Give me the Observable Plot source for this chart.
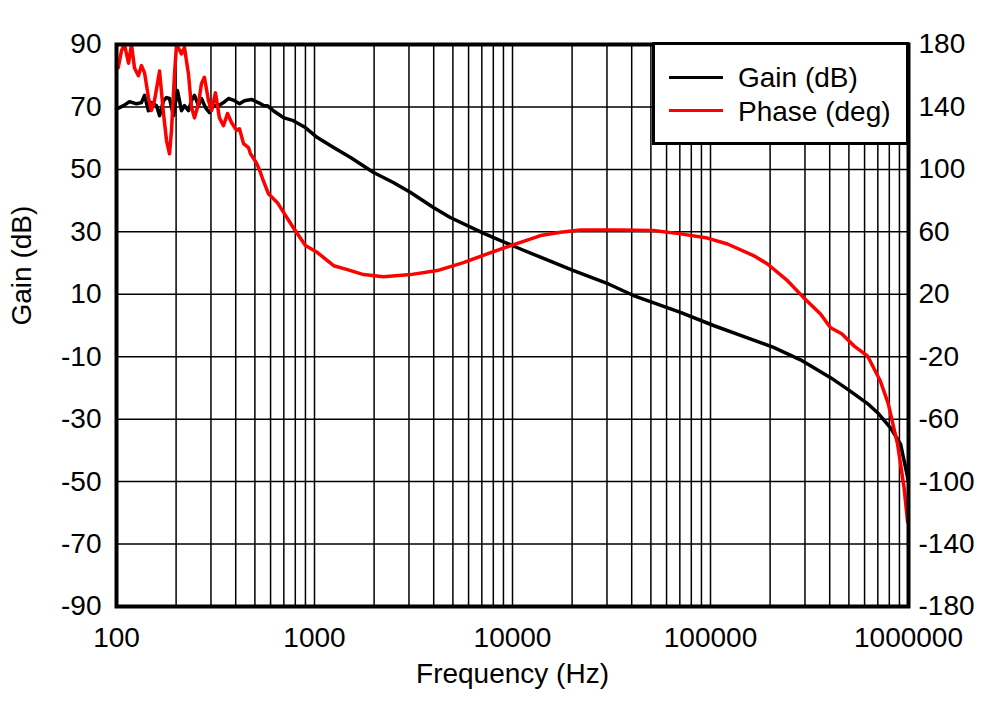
<!DOCTYPE html>
<html>
<head>
<meta charset="utf-8">
<script src="https://cdn.jsdelivr.net/npm/d3@7"></script>
<script src="https://cdn.jsdelivr.net/npm/@observablehq/plot@0.6"></script>
<style>
  html, body { margin: 0; padding: 0; background: white; }
  #wrap { position: relative; width: 992px; height: 701px; font-family: "Liberation Sans", Arial, sans-serif; }
  #legend { position: absolute; left: 652px; top: 42px; width: 251px; height: 97px; border: 3px solid black; background: white; }
  .item { position: absolute; font-size: 28px; color: black; white-space: nowrap; line-height: normal; }
  .sw { position: absolute; left: 14px; width: 54px; height: 3px; }
  .lab { left: 83px; }
</style>
</head>
<body>
<div id="wrap"></div>
<script>
// Gain curve (frequency Hz, dB)
const gainFreq = [100,108.5,116.3,126.2,133.7,138.5,145,150,159.3,165,172.7,178.9,185.2,194,203,213,220.5,231,239,247.7,259.5,268.7,281.4,294.9,308.9,327.3,347,367.8,394.6,418,442.7,480.6,519.6,557,577,619.4,696,782,899,1034,1249,1521,1988,2500,3059,3986,4850,7160,10975,20330,30530,40840,70540,103560,150000,208100,284800,404000,500000,621000,700000,811000,912000,950000,1000000];
const gainDb   = [69.3,70.4,71.7,71,71.4,73.7,68.8,71.4,70.4,67.2,72,73,72.7,67.2,75.3,68.8,70.4,68.8,72,73.7,70.4,72.7,69.8,68.2,70.4,70.4,71.4,72.7,72,71,72,72.4,71.4,70.4,70.4,68.8,66.6,65.6,63.4,60.2,57,53.8,49,45.8,42.6,37.8,34.6,29.5,24.5,17.6,13.3,9.6,4.2,0,-3.7,-7,-11,-16.7,-20.7,-25,-28,-32.8,-38,-43.3,-50];

// Phase curve (frequency Hz, degrees)
const phaseFreq = [100,102,106,109.7,115,119,123.3,129,133.7,138.5,145,150,155.5,163,165,172.7,178.9,185.2,189.6,196.3,201,213,220.5,231,239,247.7,259.5,268.7,278,291.5,301.8,316,331,347,363.6,381,403.7,418,438,464,475,510,528,547,585,650,689,782,900,1035,1250,1467,1770,2230,3050,4170,5650,7760,9800,10975,13850,17480,22050,35120,51530,70540,96560,121850,164930,194100,244800,294900,359400,404000,460000,530000,620000,720000,790000,880000,950000,990000];
const phaseDeg  = [165,165,176,180,168,180,165,160,166.5,162,146,137.7,144,159,163,135.8,118.5,110,125,161,180,174,178,161,140,133,142,155,159,144,137.7,149,133,128,135.8,130,125,126,116.5,114,110,104,99.5,94,84.4,78.7,73.6,62.6,51.2,46.7,38.3,35.8,32.6,31.3,32.6,35.2,40.3,46.7,51.2,53.3,57.6,59.7,61.2,61.2,60.8,58.7,56,52.2,44.8,39.4,28.7,18,7.4,-1.4,-5.3,-13,-19.4,-35.4,-50,-75.8,-104,-126];

// Axis ticks and titles
const xTickValues = [100, 1000, 10000, 100000, 1000000];
const gainTicks = [-90,-70,-50,-30,-10,10,30,50,70,90];
const phaseTicks = [-180,-140,-100,-60,-20,20,60,100,140,180];
const xTitle = "Frequency (Hz)";
const yTitle = "Gain (dB)";
const seriesNames = ["Gain (dB)", "Phase (deg)"];
const seriesColors = ["black", "#ff0000"];

const gainData = gainFreq.map((f, i) => ({f, v: gainDb[i]}));
const phaseData = phaseFreq.map((f, i) => ({f, v: phaseDeg[i]}));
const minorGrid = [];
for (let dec = 100; dec < 1000000; dec *= 10) for (let k = 1; k < 10; k++) minorGrid.push(dec * k);

const chart = Plot.plot({
  width: 992,
  height: 701,
  marginLeft: 116,
  marginRight: 84,
  marginTop: 44,
  marginBottom: 95,
  style: { fontFamily: "Liberation Sans, Arial, sans-serif", fontSize: "28px", background: "white", color: "black" },
  x: { type: "log", domain: [100, 1000000] },
  y: { domain: [-90, 90] },
  marks: [
    Plot.ruleX(minorGrid, { stroke: "black", strokeWidth: 1.5 }),
    Plot.ruleY(gainTicks, { stroke: "black", strokeWidth: 1.5 }),
    Plot.line(gainData, { x: "f", y: "v", stroke: seriesColors[0], strokeWidth: 3.5 }),
    Plot.line(phaseData, { x: "f", y: d => d.v / 2, stroke: seriesColors[1], strokeWidth: 3.5 }),
    Plot.frame({ stroke: "black", strokeWidth: 4 }),
    Plot.axisX({ ticks: xTickValues, tickFormat: d => String(d), tickSize: 0, tickPadding: 21, label: null, fontSize: 28 }),
    Plot.axisY({ anchor: "left", ticks: gainTicks, tickFormat: d => String(d), tickSize: 0, tickPadding: 15, label: null, fontSize: 28 }),
    Plot.axisY({ anchor: "right", ticks: gainTicks, tickFormat: (d, i) => String(phaseTicks[i]), tickSize: 0, tickPadding: 10, label: null, fontSize: 28 }),
    Plot.text([xTitle], { frameAnchor: "bottom", dy: 68, lineAnchor: "middle", fontSize: 28, fill: "black" }),
    Plot.text([yTitle], { frameAnchor: "left", dx: -94, rotate: -90, lineAnchor: "middle", fontSize: 28, fill: "black" })
  ]
});

const wrap = document.getElementById("wrap");
wrap.appendChild(chart);
const legend = document.createElement("div");
legend.id = "legend";
const swTops = [31, 64];
const labTops = [17, 51];
seriesNames.forEach((name, i) => {
  const sw = document.createElement("div");
  sw.className = "sw"; sw.style.background = seriesColors[i]; sw.style.top = swTops[i] + "px";
  legend.appendChild(sw);
  const lab = document.createElement("div");
  lab.className = "item lab"; lab.textContent = name; lab.style.top = labTops[i] + "px";
  legend.appendChild(lab);
});
wrap.appendChild(legend);
</script>
</body>
</html>
